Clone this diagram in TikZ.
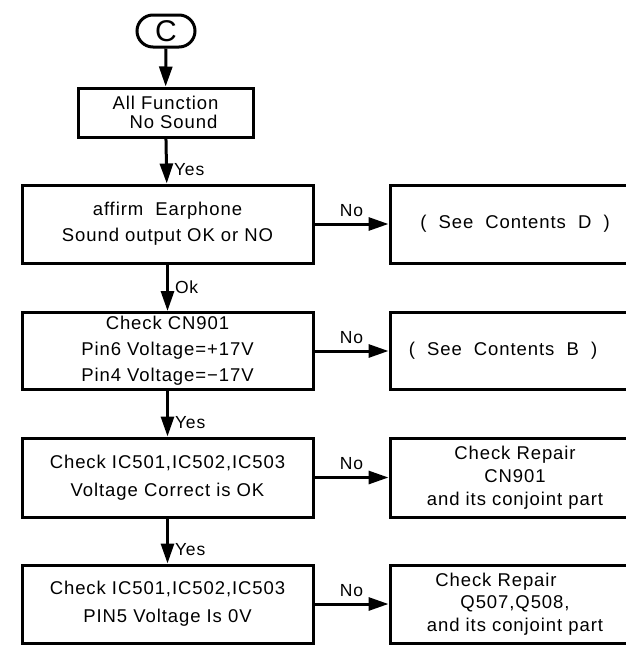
\documentclass[tikz,border=0pt]{standalone}
\usepackage{fontspec}
\setmainfont[LetterSpace=5]{Liberation Sans}
\usetikzlibrary{arrows.meta,shapes.misc}

\begin{document}
\begin{tikzpicture}[x=1pt,y=-1pt,
  box/.style={draw, line width=3pt, inner sep=0pt, align=center,
              font=\fontsize{18.5}{26}\selectfont},
  lbox/.style={box, minimum width=291pt},
  rbox/.style={box, minimum width=250pt},
  flow/.style={line width=3pt, -{Triangle[length=20pt,width=13pt]}},
  lab/.style={inner sep=0pt, font=\fontsize{17.5}{17.5}\selectfont}]

\useasboundingbox (0,0) rectangle (626,646);
\clip (0,0) rectangle (626,646);

% start connector
\node[draw, rounded rectangle, line width=3pt, minimum width=58pt,
      minimum height=32pt, inner sep=0pt,
      font=\fontsize{30}{30}\selectfont] (c) at (166,31) {C};

% main column
\node[box, minimum width=175pt, minimum height=49pt,
      font=\fontsize{18.5}{19}\selectfont] (b1) at (165.5,112.5)
      {All Function\\\hspace*{16pt}No Sound};
\node[lbox, minimum height=78pt] (b2) at (167.5,224)
      {affirm\ \ Earphone\\Sound output OK or NO};
\node[lbox, minimum height=77pt] (b3) at (167.5,351)
      {Check CN901\\Pin6 Voltage=+17V\\Pin4 Voltage=−17V};
\node[lbox, minimum height=79pt, font=\fontsize{18.5}{28}\selectfont] (b4) at (167.5,477.5)
      {Check IC501,IC502,IC503\\Voltage Correct is OK};
\node[lbox, minimum height=78pt, font=\fontsize{18.5}{28}\selectfont] (b5) at (167.5,604)
      {Check IC501,IC502,IC503\\PIN5 Voltage Is 0V};

% side branches
\node[rbox, minimum height=78pt] (rd) at (515,224)
      {(\ \ See\ \ Contents\ \ D\ \ )};
\node[rbox, minimum height=77pt] (rb) at (515,351)
      {(\ \ See\ \ Contents\ \ B\ \ )\hspace*{24pt}};
\node[rbox, minimum height=79pt, font=\fontsize{18.5}{23}\selectfont] (r4) at (515,477.5)
      {Check Repair\\CN901\\and its conjoint part};
\node[rbox, minimum height=78pt, font=\fontsize{18.5}{22.5}\selectfont] (r5) at (515,604)
      {Check Repair\hspace*{38pt}\\Q507,Q508,\hspace*{34pt}\\and its conjoint part};

% vertical flow
\draw[flow] (c) -- (b1);
\draw[flow] (b1) -- (b2) node[lab, pos=0.69, right, xshift=6pt] {Yes};
\draw[flow] (b2) -- (b3) node[lab, pos=0.48, right, xshift=6pt] {Ok};
\draw[flow] (b3) -- (b4) node[lab, pos=0.69, right, xshift=6pt] {Yes};
\draw[flow] (b4) -- (b5) node[lab, pos=0.69, right, xshift=6pt] {Yes};

% branch arrows
\draw[flow] (b2.east) -- (rd.west) node[lab, midway, above=6pt] {No};
\draw[flow] (b3.east) -- (rb.west) node[lab, midway, above=6pt] {No};
\draw[flow] (b4.east) -- (r4.west) node[lab, midway, above=6pt] {No};
\draw[flow] (b5.east) -- (r5.west) node[lab, midway, above=6pt] {No};
\end{tikzpicture}
\end{document}
